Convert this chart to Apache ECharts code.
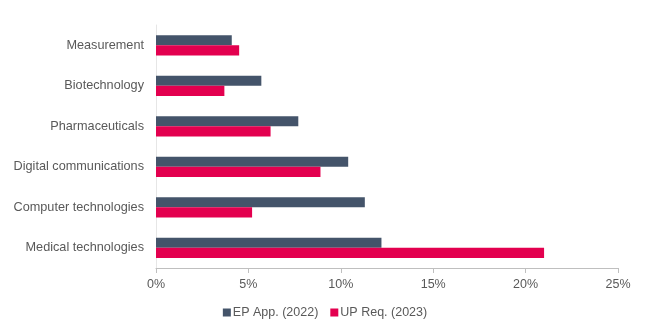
<!DOCTYPE html>
<html><head><meta charset="utf-8">
<script src="https://cdn.jsdelivr.net/npm/echarts@6/dist/echarts.min.js"></script>
<style>html,body{margin:0;padding:0;background:#fff}#c{width:650px;height:333px}</style>
</head><body><div id="c"></div>
<script>
const categories = ["Measurement", "Biotechnology", "Pharmaceuticals", "Digital communications", "Computer technologies", "Medical technologies"];
const epApp2022 = [4.1, 5.7, 7.7, 10.4, 11.3, 12.2];
const upReq2023 = [4.5, 3.7, 6.2, 8.9, 5.2, 21.0];
const xTicks = [0, 5, 10, 15, 20, 25];
const seriesNames = ["EP App. (2022)", "UP Req. (2023)"];

const chart = echarts.init(document.getElementById('c'), null, {renderer: 'canvas'});
const font = 'Liberation Sans, Arial, sans-serif';
chart.setOption({
  animation: false,
  grid: {left: 156, right: 32, top: 25, bottom: 65},
  legend: {
    bottom: 9, left: 'center', itemWidth: 8, itemHeight: 8, itemGap: 12,
    icon: 'rect',
    textStyle: {color: '#595959', fontSize: 12.5, fontFamily: font, padding: [0,0,0,-3]},
    data: seriesNames
  },
  xAxis: {
    type: 'value', min: xTicks[0], max: xTicks[xTicks.length-1], interval: 5,
    axisLine: {show: true, lineStyle: {color: '#bfbfbf'}},
    axisTick: {show: true, length: 5, lineStyle: {color: '#bfbfbf'}},
    splitLine: {show: false},
    axisLabel: {color: '#595959', fontSize: 12.5, fontFamily: font, margin: 10, formatter: v => v + '%'}
  },
  yAxis: {
    type: 'category', data: categories, inverse: true,
    axisLine: {show: true, lineStyle: {color: '#e6e6e6'}},
    axisTick: {show: false},
    axisLabel: {color: '#595959', fontSize: 12.7, fontFamily: font, margin: 12}
  },
  series: [
    {name: seriesNames[0], type: 'bar', data: epApp2022, itemStyle: {color: '#44546a'}, barGap: '0%', barCategoryGap: '50%'},
    {name: seriesNames[1], type: 'bar', data: upReq2023, itemStyle: {color: '#e3004f'}, barGap: '0%', barCategoryGap: '50%'}
  ]
});
</script></body></html>
